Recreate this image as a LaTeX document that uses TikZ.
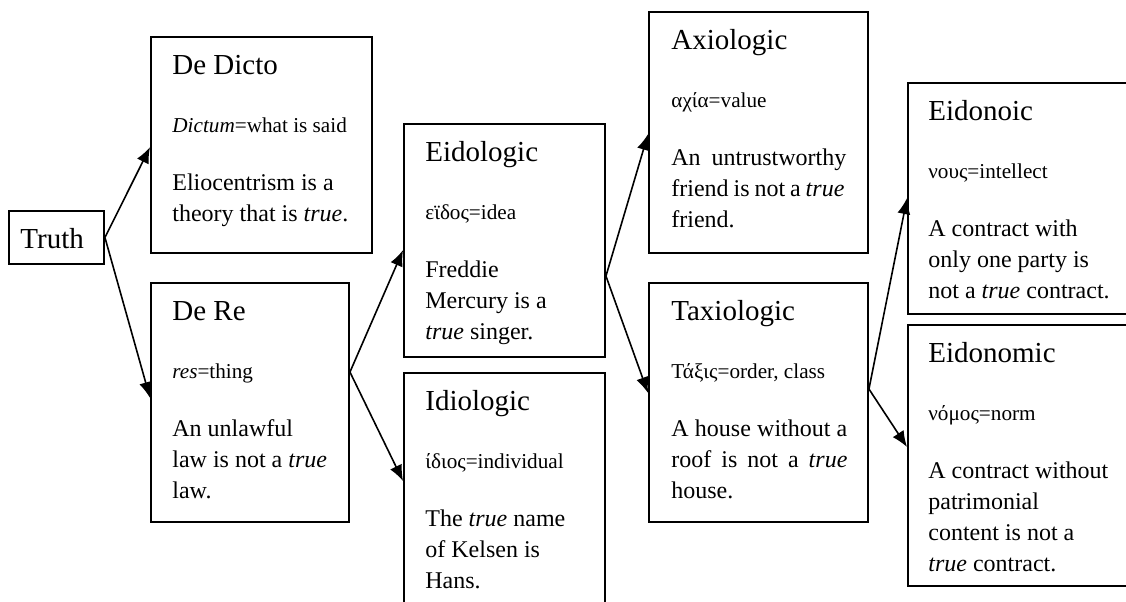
\documentclass[tikz,border=0pt]{standalone}
\usepackage{fontspec}
\setmainfont{Liberation Serif}
\usetikzlibrary{arrows.meta,calc,fit}
\begin{document}
\begin{tikzpicture}[x=0.5pt,y=-0.5pt,
  box/.style={draw, line width=0.95pt, inner sep=0pt, rectangle},
  ttl/.style={anchor=base west, inner sep=0pt, font=\fontsize{14.5}{17}\selectfont},
  gk/.style={anchor=base west, inner sep=0pt, font=\fontsize{10.6}{12}\selectfont},
  bd/.style={anchor=base west, inner sep=0pt, font=\fontsize{12}{15}\selectfont},
  arr/.style={line width=0.8pt, -{Latex[length=8pt,width=6.5pt]}}]
\useasboundingbox (0,0) rectangle (1126,601);
\fill[white] (0,0) rectangle (1126,601);
\clip (0,0) rectangle (1126,601);

% boxes
\node[box, fit={(9,211) (104,264)}] (tr) {};
\node[box, fit={(151,37) (372,253)}] (dd) {};
\node[box, fit={(151,283) (349,522)}] (dr) {};
\node[box, fit={(404,124) (605,357)}] (ei) {};
\node[box, fit={(404,373) (605,640)}] (id) {};
\node[box, fit={(649,12) (868,253)}] (ax) {};
\node[box, fit={(649,283) (868,522)}] (ta) {};
\node[box, fit={(908,83) (1160,314)}] (en) {};
\node[box, fit={(908,325) (1160,586)}] (em) {};

% Truth
\node[ttl] (tr-t) at (20,248) {Truth};

% De Dicto
\node[ttl] (dd-t) at (172,74.5) {De Dicto};
\node[gk] (dd-g) at (172,132.5) {\textit{Dictum}=what is said};
\node[bd] (dd-b1) at (172,190.5) {Eliocentrism is a};
\node[bd] (dd-b2) at (172,221.5) {theory that is \textit{true}.};

% De Re
\node[ttl] (dr-t) at (172,320.5) {De Re};
\node[gk] (dr-g) at (172,378.5) {\textit{res}=thing};
\node[bd] (dr-b1) at (172,436.5) {An unlawful};
\node[bd] (dr-b2) at (172,467.5) {law is not a \textit{true}};
\node[bd] (dr-b3) at (172,498.5) {law.};

% Eidologic
\node[ttl] (ei-t) at (425,161.5) {Eidologic};
\node[gk] (ei-g) at (425,219.5) {εϊδος=idea};
\node[bd] (ei-b1) at (425,277.5) {Freddie};
\node[bd] (ei-b2) at (425,308.5) {Mercury is a};
\node[bd] (ei-b3) at (425,339.5) {\textit{true} singer.};

% Idiologic
\node[ttl] (id-t) at (425,410.5) {Idiologic};
\node[gk] (id-g) at (425,468.5) {ίδιος=individual};
\node[bd] (id-b1) at (425,526.5) {The \textit{true} name};
\node[bd] (id-b2) at (425,557.5) {of Kelsen is};
\node[bd] (id-b3) at (425,588.5) {Hans.};

% Axiologic
\node[ttl] (ax-t) at (671,49.5) {Axiologic};
\node[gk] (ax-g) at (671,107.5) {αχία=value};
\node[bd] (ax-b1) at (671,165.5) {\makebox[87.5pt][s]{An untrustworthy}};
\node[bd] (ax-b2) at (671,196.5) {\makebox[86.5pt][s]{friend is not a \textit{true}}};
\node[bd] (ax-b3) at (671,227.5) {friend.};

% Taxiologic
\node[ttl] (ta-t) at (671,320.5) {Taxiologic};
\node[gk] (ta-g) at (671,378.5) {Τάξις=order, class};
\node[bd] (ta-b1) at (671,436.5) {\makebox[88pt][s]{A house without a}};
\node[bd] (ta-b2) at (671,467.5) {\makebox[88pt][s]{roof is not a \textit{true}}};
\node[bd] (ta-b3) at (671,498.5) {house.};

% Eidonoic
\node[ttl] (en-t) at (928,120.5) {Eidonoic};
\node[gk] (en-g) at (928,178.5) {νους=intellect};
\node[bd] (en-b1) at (928,236.5) {A contract with};
\node[bd] (en-b2) at (928,267.5) {only one party is};
\node[bd] (en-b3) at (928,298.5) {not a \textit{true} contract.};

% Eidonomic
\node[ttl] (em-t) at (928,362.5) {Eidonomic};
\node[gk] (em-g) at (928,420.5) {νόμος=norm};
\node[bd] (em-b1) at (928,478.5) {A contract without};
\node[bd] (em-b2) at (928,509.5) {patrimonial};
\node[bd] (em-b3) at (928,540.5) {content is not a};
\node[bd] (em-b4) at (928,571.5) {\textit{true} contract.};

% connectors
\draw[arr] (tr.east) -- ($(dd.north west)+(0,111)$);
\draw[arr] (tr.east) -- ($(dr.north west)+(0,116)$);
\draw[arr] ($(dr.north east)+(0,90)$) -- ($(ei.north west)+(0,127)$);
\draw[arr] ($(dr.north east)+(0,90)$) -- ($(id.north west)+(0,109)$);
\draw[arr] ($(ei.north east)+(0,153)$) -- ($(ax.north west)+(0,123)$);
\draw[arr] ($(ei.north east)+(0,153)$) -- ($(ta.north west)+(0,111)$);
\draw[arr] ($(ta.north east)+(0,107)$) -- ($(en.north west)+(0,116)$);
\draw[arr] ($(ta.north east)+(0,107)$) -- ($(em.north west)+(0,123)$);
\end{tikzpicture}
\end{document}
